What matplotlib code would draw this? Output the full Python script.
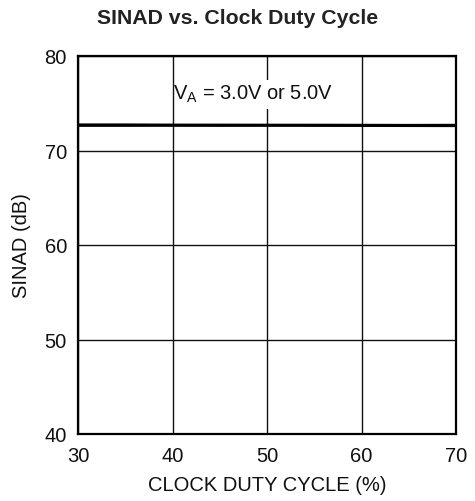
import matplotlib
matplotlib.use("Agg")
import matplotlib.pyplot as plt
from matplotlib.patches import Rectangle

plt.rcParams['font.family'] = ['Liberation Sans', 'DejaVu Sans']

duty_cycle = [30, 35, 40, 45, 50, 55, 60, 65, 70]
sinad_3v = [72.65, 72.65, 72.66, 72.65, 72.66, 72.65, 72.64, 72.63, 72.62]
sinad_5v = [72.72, 72.72, 72.70, 72.70, 72.69, 72.69, 72.68, 72.67, 72.68]
x_ticks = [30, 40, 50, 60, 70]
y_ticks = [40, 50, 60, 70, 80]

fig = plt.figure(figsize=(4.75, 5.02), dpi=100)
ax = fig.add_axes([78 / 475, 1 - 435 / 502, (456 - 78) / 475, (435 - 57) / 502])

ax.plot(duty_cycle, sinad_3v, color='black', lw=2.0, zorder=3)
ax.plot(duty_cycle, sinad_5v, color='black', lw=2.0, zorder=3)

ax.set_xlim(30, 70)
ax.set_ylim(40, 80)
ax.set_xticks(x_ticks)
ax.set_yticks(y_ticks)
ax.grid(True, color='#111111', lw=1.0)
ax.tick_params(length=0, labelsize=14.5, colors='#111111')
ax.tick_params(axis='x', pad=8.5)
ax.tick_params(axis='y', pad=8)
for s in ax.spines.values():
    s.set_linewidth(1.6)

# white backing behind the annotation, leaving the 40 % gridline visible
ax.add_patch(Rectangle((40.25, 74.4), 17.6, 3.1, facecolor='white',
                       edgecolor='none', zorder=2.5))
ax.text(40.1, 76.0, r'V$_{\mathregular{A}}$ = 3.0V or 5.0V', fontsize=14.5,
        ha='left', va='center', zorder=4, color='#111111')

ax.set_xlabel('CLOCK DUTY CYCLE (%)', fontsize=14.5, labelpad=7.5, color='#111111')
ax.set_ylabel('SINAD (dB)', fontsize=14.5, labelpad=10, color='#111111')
fig.suptitle('SINAD vs. Clock Duty Cycle', fontsize=15.3, fontweight='bold',
             x=238 / 475, y=1 - 19 / 502, va='center', color='#222222')

fig.savefig('out.png', dpi=100)
